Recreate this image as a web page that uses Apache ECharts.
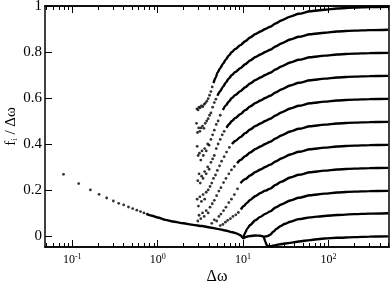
<!DOCTYPE html>
<html>
<head>
<meta charset="utf-8">
<script src="https://cdn.jsdelivr.net/npm/echarts@6/dist/echarts.min.js"></script>
<style>
  html, body { margin: 0; padding: 0; background: #fff; }
  #chart { width: 390px; height: 282px; }
</style>
</head>
<body>
<div id="chart"></div>
<script>
// x range of the frame (Δω, log scale)
const xMin = 0.048, xMax = 510;
const yMin = -0.048, yMax = 1;
const xDecades = [-1, 0, 1, 2];
const yTicks = [0, 0.2, 0.4, 0.6, 0.8, 1];

// isolated points of the synchronised branch at small Δω
const lowDots = [[0.079,0.268],[0.119,0.228],[0.163,0.200],[0.206,0.181],[0.253,0.165],[0.303,0.152],
  [0.35,0.142],[0.40,0.135],[0.455,0.126],[0.51,0.119],[0.57,0.112],[0.63,0.106],[0.69,0.100],[0.75,0.095]];

// bottom curve (f0): synchronised branch, then drops near Δω≈18
const f0 = [[0.75,0.095],[0.86,0.088],[1.0,0.08],[1.23,0.07],[1.5,0.063],[2.0,0.055],[2.6,0.048],[3.3,0.043],
  [4.1,0.037],[5.0,0.031],[6.2,0.024],[7.5,0.016],[8.5,0.01],[9.3,0.003],[10.06,-0.01],[10.8,-0.004],[12.1,0.0],
  [13.9,0.002],[15.9,0.001],[17.4,-0.003],[18.2,-0.025],[19,-0.042],[20.8,-0.045],[24,-0.04],[27.2,-0.036],
  [35.6,-0.03],[45,-0.024],[60.9,-0.018],[90,-0.011],[125,-0.008],[200,-0.005],[300,-0.003],[500,-0.002]];

const f1 = [[17.5,-0.003],[18.5,-0.002],[19.5,0.0],[20.8,0.006],[22.5,0.018],[24.5,0.03],[27.2,0.042],[31,0.053],
  [35.6,0.062],[45,0.073],[60.9,0.081],[90,0.087],[125,0.091],[200,0.095],[300,0.097],[500,0.099]];

const f2 = [[10.06,-0.008],[10.5,0.012],[11.2,0.032],[12.1,0.048],[13.9,0.068],[15.9,0.083],[18.2,0.096],[20.8,0.107],
  [24,0.124],[28,0.137],[35.6,0.154],[45,0.166],[60.9,0.177],[90,0.184],[125,0.189],[200,0.193],[300,0.195],[500,0.196]];

const d3 = [[5.4,0.045],[5.8,0.05],[6.2,0.06],[6.6,0.068],[7.1,0.075],[7.6,0.085],[8.2,0.092],[8.8,0.102]];
const f3 = [[9.4,0.115],[10.2,0.13],[11,0.143],[12.1,0.157],[14,0.174],[16,0.187],[18.2,0.197],[20.8,0.206],
  [24,0.222],[28,0.236],[35.6,0.254],[45,0.266],[60.9,0.277],[90,0.284],[125,0.289],[200,0.293],[300,0.295],[500,0.296]];

const d4 = [[4.3,0.055],[4.6,0.07],[4.9,0.065],[5.2,0.085],[5.5,0.095],[5.9,0.11],[6.3,0.125],[6.8,0.145],
  [7.3,0.16],[7.9,0.18],[8.6,0.205]];
const f4 = [[9.3,0.23],[10.6,0.247],[12.1,0.263],[14,0.278],[16,0.289],[18.2,0.3],[20.8,0.31],[24,0.324],[28,0.337],
  [35.6,0.354],[45,0.366],[60.9,0.377],[90,0.384],[125,0.389],[200,0.393],[300,0.395],[500,0.396]];

const d5 = [[2.95,0.065],[3.05,0.09],[3.2,0.075],[3.35,0.1],[3.5,0.085],[3.7,0.11],[3.9,0.1],[4.1,0.125],
  [4.35,0.14],[4.6,0.155],[4.9,0.175],[5.2,0.195],[5.5,0.21],[5.9,0.232],[6.3,0.25],[6.8,0.27],[7.3,0.287],[7.9,0.302]];
const f5 = [[8.5,0.316],[9.3,0.33],[10.6,0.347],[12.1,0.363],[14,0.378],[16,0.389],[18.2,0.4],[20.8,0.41],
  [24,0.424],[28,0.437],[35.6,0.454],[45,0.466],[60.9,0.477],[90,0.484],[125,0.489],[200,0.493],[300,0.495],[500,0.496]];

const d6 = [[2.9,0.16],[3.0,0.13],[3.12,0.17],[3.25,0.15],[3.4,0.18],[3.55,0.16],[3.7,0.19],[3.9,0.2],[4.1,0.215],
  [4.3,0.23],[4.5,0.25],[4.75,0.265],[5.0,0.285],[5.3,0.305],[5.6,0.325],[6.0,0.345],[6.4,0.365],[6.9,0.385]];
const f6 = [[7.4,0.4],[8.1,0.413],[9.3,0.43],[10.6,0.447],[12.1,0.463],[14,0.478],[16,0.489],[18.2,0.5],[20.8,0.51],
  [24,0.524],[28,0.537],[35.6,0.554],[45,0.566],[60.9,0.577],[90,0.584],[125,0.589],[200,0.593],[300,0.595],[500,0.596]];

const d7 = [[2.95,0.24],[3.05,0.27],[3.15,0.23],[3.27,0.26],[3.4,0.25],[3.55,0.28],[3.7,0.27],[3.85,0.3],[4.0,0.29],
  [4.2,0.32],[4.4,0.335],[4.6,0.35],[4.85,0.38],[5.1,0.4],[5.4,0.42],[5.7,0.44],[6.0,0.455]];
const f7 = [[6.4,0.47],[6.8,0.485],[7.4,0.5],[8.1,0.513],[9.3,0.53],[10.6,0.547],[12.1,0.563],[14,0.578],[16,0.589],
  [18.2,0.6],[20.8,0.61],[24,0.624],[28,0.637],[35.6,0.654],[45,0.666],[60.9,0.677],[90,0.684],[125,0.689],
  [200,0.693],[300,0.695],[500,0.696]];

const d8 = [[2.9,0.39],[2.98,0.35],[3.08,0.36],[3.2,0.33],[3.3,0.37],[3.42,0.35],[3.55,0.38],[3.7,0.37],[3.85,0.4],
  [4.0,0.395],[4.2,0.42],[4.4,0.44],[4.6,0.46],[4.85,0.485],[5.1,0.5],[5.4,0.525]];
const f8 = [[5.8,0.548],[6.3,0.568],[6.8,0.585],[7.4,0.6],[8.1,0.613],[9.3,0.63],[10.6,0.647],[12.1,0.663],[14,0.678],
  [16,0.689],[18.2,0.7],[20.8,0.71],[24,0.724],[28,0.737],[35.6,0.754],[45,0.766],[60.9,0.777],[90,0.784],
  [125,0.789],[200,0.793],[300,0.795],[500,0.796]];

const d9 = [[2.85,0.49],[2.93,0.45],[3.02,0.47],[3.12,0.455],[3.22,0.47],[3.35,0.478],[3.48,0.468],[3.6,0.49],
  [3.75,0.5],[3.9,0.51],[4.05,0.525],[4.2,0.535],[4.4,0.56],[4.6,0.58],[4.8,0.595]];
const f9 = [[5.0,0.61],[5.4,0.63],[5.8,0.648],[6.3,0.668],[6.8,0.685],[7.4,0.7],[8.1,0.713],[9.3,0.73],[10.6,0.747],
  [12.1,0.763],[14,0.778],[16,0.789],[18.2,0.8],[20.8,0.81],[24,0.824],[28,0.837],[35.6,0.854],[45,0.866],
  [60.9,0.877],[90,0.884],[125,0.889],[200,0.893],[300,0.895],[500,0.897]];

const d10 = [[2.88,0.553],[2.97,0.548],[3.05,0.56],[3.14,0.557],[3.25,0.566],[3.37,0.562],[3.5,0.572],[3.62,0.578],
  [3.76,0.586],[3.9,0.597],[4.05,0.612],[4.2,0.628],[4.35,0.648]];
const f10 = [[4.5,0.665],[4.8,0.69],[5.0,0.71],[5.4,0.73],[5.8,0.748],[6.3,0.768],[6.8,0.785],[7.4,0.8],[8.1,0.813],
  [9.3,0.83],[10.6,0.847],[12.1,0.863],[14,0.878],[16,0.889],[18.2,0.9],[20.8,0.91],[24,0.924],[28,0.937],
  [35.6,0.954],[45,0.966],[60.9,0.977],[90,0.984],[125,0.989],[200,0.993],[300,0.995],[500,0.996]];

const lg = p => [Math.log10(p[0]), p[1]];
const minorVals = [];
for (let n = -2; n <= 2; n++) for (let k = 2; k <= 9; k++) {
  const v = n + Math.log10(k);
  if (v > Math.log10(xMin) && v < Math.log10(xMax)) minorVals.push(v);
}

const font = 'Liberation Serif';
const lineCol = '#000';

function xAxisCfg(pos, vals, len, labels) {
  return {
    type: 'value', position: pos, min: Math.log10(xMin), max: Math.log10(xMax),
    axisLine: { show: true, onZero: false, lineStyle: { color: lineCol, width: 1.5 } },
    axisTick: { show: true, inside: true, length: len, customValues: vals, lineStyle: { color: lineCol, width: 1 } },
    axisLabel: labels ? {
      show: true, customValues: vals, margin: 6,
      formatter: v => '{b|10}{s|' + Math.round(v) + '}',
      rich: {
        b: { fontFamily: font, fontSize: 12, color: '#000' },
        s: { fontFamily: font, fontSize: 8, color: '#000', verticalAlign: 'top', padding: [0, 0, 6, 0] }
      }
    } : { show: false },
    splitLine: { show: false },
    name: labels ? 'Δω' : '', nameLocation: 'middle', nameGap: 22, nameMoveOverlap: false,
    nameTextStyle: { fontFamily: font, fontSize: 16, color: '#000' }
  };
}

const lineSeries = [f0, f1, f2, f3, f4, f5, f6, f7, f8, f9, f10].map(d => ({
  type: 'line', data: d.map(lg), showSymbol: false, smooth: 0.25, smoothMonotone: 'x',
  lineStyle: { color: '#000', width: 2.4 }, silent: true, z: 3
}));

const dotSeries = {
  type: 'scatter', symbol: 'circle', symbolSize: 2.8,
  itemStyle: { color: '#000' }, silent: true, z: 4,
  data: [].concat(lowDots, d3, d4, d5, d6, d7, d8, d9, d10).map(lg)
};

const chart = echarts.init(document.getElementById('chart'), null, { renderer: 'canvas' });
chart.setOption({
  animation: false,
  backgroundColor: '#fff',
  textStyle: { fontFamily: font },
  grid: { left: 45, right: 1, top: 6, bottom: 35, containLabel: false, outerBoundsMode: 'none' },
  xAxis: [
    xAxisCfg('bottom', xDecades, 7, true),
    xAxisCfg('bottom', minorVals, 4, false),
    xAxisCfg('top', xDecades, 7, false),
    xAxisCfg('top', minorVals, 4, false)
  ],
  yAxis: [
    {
      type: 'value', position: 'left', min: yMin, max: yMax,
      axisLine: { show: true, onZero: false, lineStyle: { color: lineCol, width: 1.5 } },
      axisTick: { show: true, inside: true, length: 7, customValues: yTicks, lineStyle: { color: lineCol } },
      axisLabel: { show: true, customValues: yTicks, margin: 3, fontFamily: font, fontSize: 15, color: '#000' },
      splitLine: { show: false },
      name: '{a|f}{i|i}{a| / Δω}', nameLocation: 'middle', nameGap: 26, nameRotate: 90, nameMoveOverlap: false,
      nameTextStyle: {
        rich: {
          a: { fontFamily: font, fontSize: 15, color: '#000' },
          i: { fontFamily: font, fontSize: 9, color: '#000', verticalAlign: 'bottom', padding: [6, 0, 0, 0] }
        }
      }
    },
    {
      type: 'value', position: 'right', min: yMin, max: yMax,
      axisLine: { show: true, onZero: false, lineStyle: { color: lineCol, width: 1.5 } },
      axisTick: { show: false }, axisLabel: { show: false }, splitLine: { show: false }
    }
  ],
  series: lineSeries.concat([dotSeries])
});
</script>
</body>
</html>
